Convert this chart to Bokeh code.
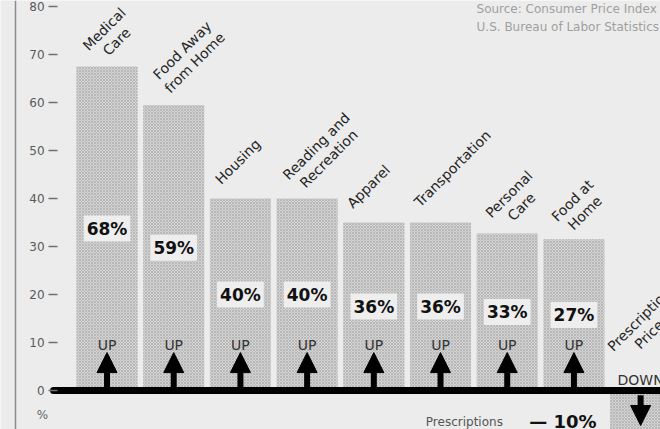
import math
from bokeh.plotting import figure
from bokeh.models import ColumnDataSource, Range1d, FixedTicker, Span, Arrow, NormalHead
from bokeh.core.properties import value
from bokeh.embed import file_html
from bokeh.resources import INLINE

# ---------------- data ----------------
categories = ["Medical Care", "Food Away from Home", "Housing", "Reading and Recreation",
              "Apparel", "Transportation", "Personal Care", "Food at Home", "Prescription Prices"]
label_lines = ["Medical\nCare", "Food Away\nfrom Home", "Housing", "Reading and\nRecreation",
               "Apparel", "Transportation", "Personal\nCare", "Food at\nHome", "Prescription\nPrices"]
bar_heights = [67.5, 59.5, 40, 40, 35, 35, 32.7, 31.5, -10]
pct_labels = ["68%", "59%", "40%", "40%", "36%", "36%", "33%", "27%"]
directions = ["UP", "UP", "UP", "UP", "UP", "UP", "UP", "UP", "DOWN"]
y_ticks = [0, 10, 20, 30, 40, 50, 60, 70, 80]
prescription_name = "Prescriptions"
prescription_change = "— 10%"
source_note = "Source: Consumer Price Index\nU.S. Bureau of Labor Statistics"

# ---------------- style ----------------
label_dx = [0.05, 0.22, -0.04, 0.23, -0.08, 0.18, 0.12, 0.07, 0.07]
label_dy = [6.5, 10.1, 7.7, 9.6, 7.5, 11.25, 6.9, 6.8, 13.5]
BG = "#ececec"
FONT = value("DejaVu Sans")

xs = list(range(1, len(categories) + 1))
p = figure(width=660, height=429, output_backend="svg", toolbar_location=None,
           x_range=Range1d(-0.597, 9.298), y_range=Range1d(-8.125, 81.25),
           min_border=0, min_border_left=0, min_border_right=0,
           min_border_top=0, min_border_bottom=0)
p.background_fill_color = BG
p.border_fill_color = BG
p.outline_line_color = None
p.grid.visible = False
p.xaxis.visible = False

axis_x = 0.258
yax = p.yaxis[0]
yax.fixed_location = axis_x
yax.ticker = FixedTicker(ticks=y_ticks)
yax.axis_line_color = None
yax.major_tick_out = 9
yax.major_tick_in = 0
yax.minor_tick_line_color = None
yax.major_tick_line_color = "#707070"
yax.major_tick_line_width = 1.5
yax.major_label_standoff = 4
yax.major_label_text_font = "DejaVu Sans"
yax.major_label_text_font_size = "12px"
yax.major_label_text_color = "#5a5a5a"

p.add_layout(Span(location=-0.372, dimension="height", line_color="#8c8c8c", line_width=1.5))

src = ColumnDataSource(dict(
    x=xs, top=bar_heights, cat=categories,
    lab=label_lines,
    lx=[x + d for x, d in zip(xs, label_dx)],
    ly=[max(h, 0) + d for h, d in zip(bar_heights, label_dy)],
))
p.vbar(x="x", top="top", bottom=0, width=0.915, source=src,
       fill_color="#d3d3d3", line_color=None,
       hatch_pattern="x", hatch_scale=3, hatch_color="#b8b8b8", hatch_weight=1)

# category labels
p.text(x="lx", y="ly", text="lab", source=src, angle=math.pi / 4,
       text_align="center", text_baseline="middle", text_font=FONT,
       text_font_size="14px", text_color="#262626", text_line_height=1.1)

# percentage labels
n_up = len(pct_labels)
psrc = ColumnDataSource(dict(x=xs[:n_up], y=[h / 2 for h in bar_heights[:n_up]], t=pct_labels))
p.text(x="x", y="y", text="t", source=psrc, text_align="center", text_baseline="middle",
       text_font=FONT, text_font_style="bold", text_font_size="17px", text_color="#111111",
       background_fill_color="#eeeeee", padding=3)

# baseline
p.segment(x0=axis_x - 0.06, y0=0, x1=9.6, y1=0, line_width=7, line_color="black", line_cap="round")

# UP / DOWN words and arrows
dsrc = ColumnDataSource(dict(
    x=xs, t=directions,
    y=[9.4 if d == "UP" else 2.1 for d in directions],
    y0=[0 if d == "UP" else -1 for d in directions],
    y1=[7.9 if d == "UP" else -7.3 for d in directions],
))
p.text(x="x", y="y", text="t", source=dsrc, text_align="center", text_baseline="middle",
       text_font=FONT, text_font_size="14px", text_color="#333333")
p.add_layout(Arrow(end=NormalHead(size=20, fill_color="black", line_color="black", line_width=1),
                   x_start="x", y_start="y0", x_end="x", y_end="y1", source=dsrc,
                   line_width=6, line_color="black"))

# percent sign under zero tick
p.text(x=[0.033], y=[-5.2], text=["%"], text_align="center", text_baseline="middle",
       text_font=FONT, text_font_size="12px", text_color="#666666")

# prescriptions caption at bottom
p.text(x=[5.78], y=[-5.1], text=[prescription_name], text_align="left", text_baseline="top",
       text_font=FONT, text_font_size="12px", text_color="#555555")
p.text(x=[7.33], y=[-4.2], text=[prescription_change], text_align="left", text_baseline="top",
       text_font=FONT, text_font_style="bold", text_font_size="18px", text_color="#111111")

# source note
p.text(x=[6.54], y=[80.9], text=[source_note], text_align="left", text_baseline="top",
       text_font=FONT, text_font_size="12px", text_color="#a0a0a0", text_line_height=1.3)

open("out.html", "w").write(file_html(p, INLINE))
